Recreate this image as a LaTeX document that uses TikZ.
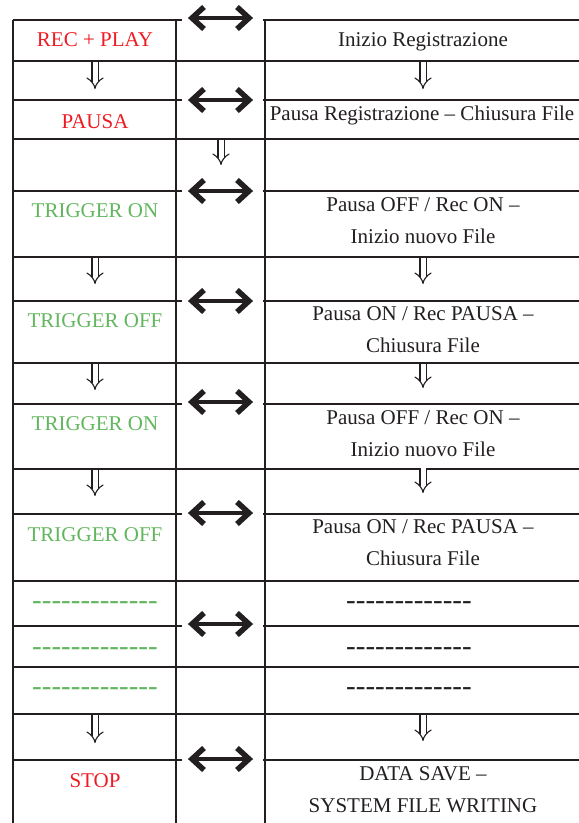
\documentclass[tikz,border=0pt]{standalone}
\usepackage{fontspec}
\setmainfont{Liberation Serif}
\newfontfamily\dashfont{Liberation Serif}
\usetikzlibrary{positioning,arrows.meta}

\definecolor{recred}{RGB}{237,28,36}
\definecolor{triggreen}{RGB}{98,182,94}
\definecolor{ink}{RGB}{35,31,32}

\begin{document}
\begin{tikzpicture}[x=1pt,y=-1pt,
        rule/.style={draw=ink,line width=2pt},
        txt/.style={font=\fontsize{21}{32}\selectfont,text=ink,inner sep=0pt,anchor=base,align=center},
        redtxt/.style={txt,text=recred},
        greentxt/.style={txt,text=triggreen},
        dashrow/.style={font=\dashfont\fontsize{29}{29}\selectfont,inner sep=0pt},
        link/.style={draw=ink,line width=4.5pt},
        barb/.style={draw=ink,line width=5.5pt,line join=miter,miter limit=4},
        flow/.style={draw=ink,double,double distance=5pt,line width=1.1pt,-{Implies[length=8pt,width=15pt]}}]

    \useasboundingbox (0,0) rectangle (579,823);

    % grid
    \foreach \x in {13,176,265}
        \draw[rule] (\x,20) -- (\x,823);
    \foreach \y in {61,139,257,363,469,581,667,714}
        \draw[rule] (13,\y) -- (579,\y);
    \foreach \y in {20,100,191,301,404,514,626,760} {
        \draw[rule] (13,\y) -- (182,\y);
        \draw[rule] (263,\y) -- (579,\y);
    }

    % left column
    \node[redtxt] (recplay) at (95,46) {REC + PLAY};
    \node[redtxt] (pausa) at (95,128) {PAUSA};
    \node[greentxt] (trigon1) at (95,217) {TRIGGER ON};
    \node[greentxt] (trigoff1) at (95,327) {TRIGGER OFF};
    \node[greentxt] (trigon2) at (95,430) {TRIGGER ON};
    \node[greentxt] (trigoff2) at (95,541) {TRIGGER OFF};
    \node[dashrow,text=triggreen] (gdash1) at (95,606) {-------------};
    \node[dashrow,text=triggreen] (gdash2) at (95,652) {-------------};
    \node[dashrow,text=triggreen] (gdash3) at (95,692) {-------------};
    \node[redtxt] (stop) at (95,787) {STOP};

    % right column
    \node[txt] (inizio) at (423,46) {Inizio Registrazione};
    \node[txt] (pausareg) at (422,120) {Pausa Registrazione – Chiusura File};
    \node[txt] (recon1) at (423,243) {Pausa OFF / Rec ON –\\Inizio nuovo File};
    \node[txt] (recpausa1) at (423,352) {Pausa ON / Rec PAUSA –\\Chiusura File};
    \node[txt] (recon2) at (423,456) {Pausa OFF / Rec ON –\\Inizio nuovo File};
    \node[txt] (recpausa2) at (423,565) {Pausa ON / Rec PAUSA –\\Chiusura File};
    \node[dashrow,text=ink] (kdash1) at (409,606) {-------------};
    \node[dashrow,text=ink] (kdash2) at (409,652) {-------------};
    \node[dashrow,text=ink] (kdash3) at (409,692) {-------------};
    \node[txt] (datasave) at (423,812) {DATA SAVE –\\SYSTEM FILE WRITING};

    % links between the columns
    \foreach \y [count=\i] in {18,100,191,301,402,513,624,759} {
        \coordinate (lkw\i) at (192,\y);
        \coordinate (lke\i) at (249,\y);
        \draw[link] (lkw\i) -- (lke\i);
        \draw[barb] ([shift={(12,-11)}]lkw\i) -- (lkw\i) -- ([shift={(12,11)}]lkw\i);
        \draw[barb] ([shift={(-12,-11)}]lke\i) -- (lke\i) -- ([shift={(-12,11)}]lke\i);
    }

    % flow arrows
    \foreach \x/\ya/\yb [count=\i] in {95/62/89,423/62/89,221/140/165,
            95/258/284,423/258/284,95/364/390,423/364/388,
            95/470/496,423/468/493,95/715/743,423/715/741} {
        \coordinate (fs\i) at (\x,\ya);
        \coordinate (fe\i) at (\x,\yb);
        \draw[flow] (fs\i) -- (fe\i);
    }
\end{tikzpicture}
\end{document}
